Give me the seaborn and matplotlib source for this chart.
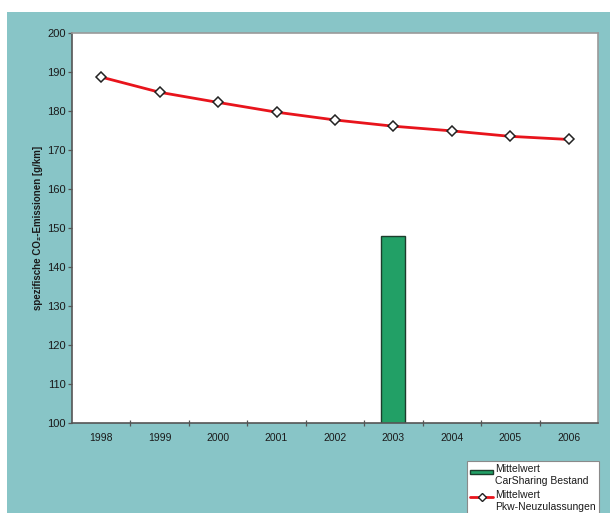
import numpy as np
import pandas as pd
import matplotlib
matplotlib.use("Agg")
import matplotlib.pyplot as plt
from matplotlib.patches import Rectangle
from matplotlib.lines import Line2D
from matplotlib.ticker import FixedLocator
from matplotlib.legend_handler import HandlerPatch, HandlerLine2D
import seaborn as sns

# Data
jahre = ["1998", "1999", "2000", "2001", "2002", "2003", "2004", "2005", "2006"]
pkw_neuzulassungen = [188.7, 184.8, 182.2, 179.7, 177.7, 176.1, 174.9, 173.5, 172.7]
carsharing_bestand = [np.nan, np.nan, np.nan, np.nan, np.nan, 148.0, np.nan, np.nan, np.nan]
y_ticks = [100, 110, 120, 130, 140, 150, 160, 170, 180, 190, 200]

TEAL = "#88C5C7"
GREEN = "#22A066"
RED = "#E8141C"

sns.set_style("white")
plt.rcParams["font.family"] = ["Liberation Sans", "DejaVu Sans"]

df = pd.DataFrame({"Jahr": jahre,
                   "Pkw": pkw_neuzulassungen,
                   "CarSharing": carsharing_bestand})

fig = plt.figure(figsize=(6.10, 5.13), dpi=100, facecolor="white")
W, H = 610, 513
# teal panel behind the chart
fig.patches.append(Rectangle((7 / W, 0), 1 - 7 / W, 1 - 12 / H,
                             transform=fig.transFigure, facecolor=TEAL,
                             edgecolor="none", zorder=-10))

ax = fig.add_axes([72 / W, 1 - 423 / H, (598 - 72) / W, (423 - 33) / H])
ax.set_facecolor("white")

sns.barplot(data=df, x="Jahr", y="CarSharing", order=jahre, color=GREEN,
            width=0.41, edgecolor="#1c3d2c", linewidth=1.0, saturation=1,
            ax=ax, zorder=2)
sns.pointplot(data=df, x="Jahr", y="Pkw", order=jahre, color=RED,
              markers="D", linestyles="-", ax=ax, zorder=3)
for ln in ax.lines:
    ln.set_linewidth(2.0)
    ln.set_markersize(5.5)
    ln.set_markerfacecolor("white")
    ln.set_markeredgecolor("#222222")
    ln.set_markeredgewidth(1.1)

ax.set_ylim(100, 200)
ax.set_xlim(-0.5, len(jahre) - 0.5)
ax.set_yticks(y_ticks)
ax.set_yticklabels([str(t) for t in y_ticks])
ax.set_xlabel("")
ax.set_ylabel("")

# category boundary ticks on x axis, labels centred on categories
ax.xaxis.set_minor_locator(FixedLocator(np.arange(0.5, len(jahre) - 1, 1.0)))
ax.tick_params(axis="x", which="major", length=0, pad=7, labelsize=7.5,
               labelcolor="#1a1a1a")
ax.tick_params(axis="x", which="minor", length=5, width=0.9,
               direction="inout", color="#555555", bottom=True)
ax.tick_params(axis="y", which="major", length=3, width=0.9,
               direction="out", color="#555555", left=True, pad=1.5,
               labelsize=8, labelcolor="#1a1a1a")

for side in ["left", "bottom"]:
    ax.spines[side].set_color("#555555")
    ax.spines[side].set_linewidth(1.2)
for side in ["top", "right"]:
    ax.spines[side].set_color("#9a9a9a")
    ax.spines[side].set_linewidth(1.2)

fig.text(38 / W, 1 - 228 / H, "spezifische CO₂-Emissionen [g/km]",
         rotation=90, ha="center", va="center", fontsize=7,
         fontweight="bold", color="#1a1a1a")


# legend keys sit beside the first line of each two-line label
def top_patch(legend, orig_handle, xdescent, ydescent, width, height, fontsize):
    return Rectangle((-xdescent, -ydescent + height * 0.62), width, height * 0.3)


class TopLine(HandlerLine2D):
    def create_artists(self, legend, orig_handle, xdescent, ydescent,
                       width, height, fontsize, trans):
        arts = super().create_artists(legend, orig_handle, xdescent, ydescent,
                                      width, height, fontsize, trans)
        for a in arts:
            a.set_ydata(np.asarray(a.get_ydata()) + height * 0.27)
        return arts


handles = [
    Rectangle((0, 0), 1, 1, facecolor=GREEN, edgecolor="#1c3d2c", linewidth=1.0),
    Line2D([], [], color=RED, linewidth=2.0, marker="D", markersize=4.5,
           markerfacecolor="white", markeredgecolor="#222222",
           markeredgewidth=1.0),
]
labels = ["Mittelwert\nCarSharing Bestand", "Mittelwert\nPkw-Neuzulassungen"]
leg = fig.legend(handles, labels, loc="upper right",
                 bbox_to_anchor=(599 / W, 1 - 461 / H), fontsize=7.5,
                 frameon=True, fancybox=False, edgecolor="#8a8a8a",
                 facecolor="white", framealpha=1, borderpad=0.3,
                 handlelength=2.2, handleheight=1.6, handletextpad=0.2,
                 labelspacing=0.4, borderaxespad=0,
                 handler_map={Rectangle: HandlerPatch(patch_func=top_patch),
                              Line2D: TopLine()})
leg.get_frame().set_linewidth(0.8)
for t in leg.get_texts():
    t.set_linespacing(1.25)
    t.set_color("#1a1a1a")

fig.savefig("out.png", dpi=100, facecolor=fig.get_facecolor())
